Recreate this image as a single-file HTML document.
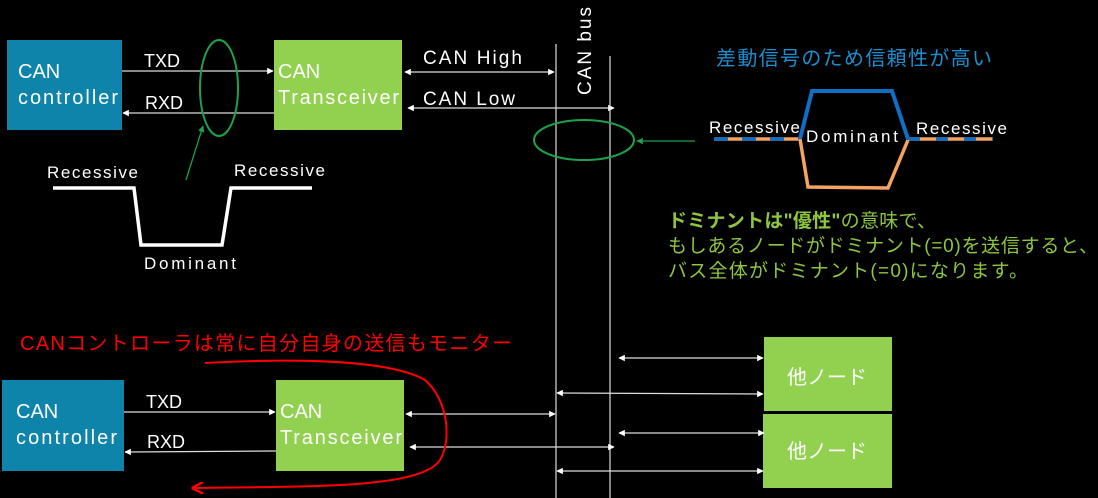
<!DOCTYPE html>
<html><head><meta charset="utf-8"><style>
html,body{margin:0;padding:0;background:#000;}
body{width:1098px;height:498px;overflow:hidden;position:relative;font-family:"Liberation Sans","Noto Sans CJK JP",sans-serif;}
svg{position:absolute;left:0;top:0;}
</style></head><body>
<svg width="1098" height="498" viewBox="0 0 1098 498" xmlns="http://www.w3.org/2000/svg" font-family="Liberation Sans, Noto Sans CJK JP, sans-serif">
<defs>
<marker id="a" viewBox="0 0 10 10" refX="9" refY="5" markerWidth="5" markerHeight="5" orient="auto-start-reverse"><path d="M0,0L10,5L0,10z" fill="#fff"/></marker>
<marker id="g" viewBox="0 0 10 10" refX="9" refY="5" markerWidth="5" markerHeight="5" orient="auto"><path d="M0,0L10,5L0,10z" fill="#1fa04a"/></marker>
<marker id="r" viewBox="0 0 10 10" refX="8" refY="5" markerWidth="6" markerHeight="6" orient="auto"><path d="M0,0L10,5L0,10" fill="none" stroke="#f00" stroke-width="2"/></marker>
</defs>
<!-- top boxes -->
<rect x="7" y="40" width="115" height="90" fill="#0e84ab"/>
<text x="18" y="78" fill="#fff" font-size="20">CAN</text>
<text x="18" y="104" fill="#fff" font-size="20" textLength="100">controller</text>
<rect x="274" y="40" width="128" height="90" fill="#92d050"/>
<text x="278" y="78" fill="#fff" font-size="20">CAN</text>
<text x="278" y="104" fill="#fff" font-size="20" textLength="121">Transceiver</text>
<g stroke="#ddd" stroke-width="1.3">
<line x1="122" y1="71" x2="273" y2="71" marker-end="url(#a)"/>
<line x1="274" y1="113" x2="123" y2="113" marker-end="url(#a)"/>
<line x1="405" y1="72" x2="554" y2="72" marker-start="url(#a)" marker-end="url(#a)"/>
<line x1="408" y1="108" x2="614" y2="108" marker-start="url(#a)" marker-end="url(#a)"/>
</g>
<text x="144" y="67" fill="#fff" font-size="18">TXD</text>
<text x="145" y="109" fill="#fff" font-size="18">RXD</text>
<text x="423" y="64" fill="#fff" font-size="19" textLength="99">CAN High</text>
<text x="423" y="105" fill="#fff" font-size="19" textLength="92">CAN Low</text>
<!-- bus -->
<line x1="556" y1="44" x2="556" y2="498" stroke="#ddd" stroke-width="1.2"/>
<line x1="610" y1="56" x2="610" y2="498" stroke="#ddd" stroke-width="1.2"/>
<text transform="translate(591,95) rotate(-90)" fill="#fff" font-size="19" textLength="88">CAN bus</text>
<!-- green ellipses -->
<ellipse cx="219" cy="88" rx="19" ry="48" fill="none" stroke="#1fa04a" stroke-width="2"/>
<line x1="186" y1="180" x2="203" y2="126" stroke="#1fa04a" stroke-width="1.3" marker-end="url(#g)"/>
<ellipse cx="584" cy="140" rx="50" ry="20" fill="none" stroke="#1fa04a" stroke-width="2"/>
<line x1="695" y1="141" x2="637" y2="141" stroke="#1fa04a" stroke-width="1.3" marker-end="url(#g)"/>
<!-- waveform -->
<polyline points="53,188 134,188 141,245 222,245 231,188 312,188" fill="none" stroke="#fff" stroke-width="3.5"/>
<text x="47" y="178" fill="#fff" font-size="17" textLength="91">Recessive</text>
<text x="234" y="176" fill="#fff" font-size="17" textLength="91">Recessive</text>
<text x="144" y="269" fill="#fff" font-size="17" textLength="92">Dominant</text>
<!-- right differential -->
<text x="716" y="65" fill="#1a8fd0" font-size="20" textLength="276">差動信号のため信頼性が高い</text>
<line x1="714" y1="139" x2="800" y2="139" stroke="#f4a460" stroke-width="3.5"/>
<line x1="714" y1="139" x2="800" y2="139" stroke="#0e6fc4" stroke-width="3.5" stroke-dasharray="14 14"/>
<line x1="908" y1="139" x2="993" y2="139" stroke="#f4a460" stroke-width="3.5"/>
<line x1="908" y1="139" x2="993" y2="139" stroke="#0e6fc4" stroke-width="3.5" stroke-dasharray="12 16"/>
<polyline points="800,139 808,187 888,188 908,140" fill="none" stroke="#f4a460" stroke-width="3.5"/>
<polyline points="800,139 812,91 892,91 908,139" fill="none" stroke="#0e6fc4" stroke-width="4"/>
<text x="709" y="133" fill="#fff" font-size="17" textLength="91">Recessive</text>
<text x="806" y="142" fill="#fff" font-size="17" textLength="92">Dominant</text>
<text x="916" y="134" fill="#fff" font-size="17" textLength="91">Recessive</text>
<g fill="#8dc63f" font-size="19">
<text x="668" y="227" textLength="268"><tspan font-weight="bold">ドミナントは"優性"</tspan>の意味で、</text>
<text x="668" y="252" textLength="430">もしあるノードがドミナント(=0)を送信すると、</text>
<text x="668" y="277" textLength="360">バス全体がドミナント(=0)になります。</text>
</g>
<!-- bottom -->
<text x="20" y="350" fill="#f00" font-size="20" textLength="492">CANコントローラは常に自分自身の送信もモニター</text>
<rect x="2" y="380" width="122" height="91" fill="#0e84ab"/>
<text x="16" y="418" fill="#fff" font-size="20">CAN</text>
<text x="16" y="444" fill="#fff" font-size="20" textLength="101">controller</text>
<rect x="276" y="380" width="128" height="91" fill="#92d050"/>
<text x="280" y="418" fill="#fff" font-size="20">CAN</text>
<text x="280" y="444" fill="#fff" font-size="20" textLength="122">Transceiver</text>
<text x="146" y="408" fill="#fff" font-size="18">TXD</text>
<text x="147" y="448" fill="#fff" font-size="18">RXD</text>
<rect x="764" y="337" width="128" height="74" fill="#92d050"/>
<text x="787" y="384" fill="#fff" font-size="20">他ノード</text>
<rect x="763" y="414" width="129" height="74" fill="#92d050"/>
<text x="787" y="458" fill="#fff" font-size="20">他ノード</text>
<g stroke="#ddd" stroke-width="1.3">
<line x1="124" y1="412" x2="275" y2="412" marker-end="url(#a)"/>
<line x1="276" y1="451" x2="125" y2="452" marker-end="url(#a)"/>
<line x1="406" y1="414" x2="555" y2="414" marker-start="url(#a)" marker-end="url(#a)"/>
<line x1="410" y1="447" x2="614" y2="447" marker-start="url(#a)" marker-end="url(#a)"/>
<line x1="619" y1="358" x2="763" y2="358" marker-start="url(#a)" marker-end="url(#a)"/>
<line x1="557" y1="393" x2="763" y2="394" marker-start="url(#a)" marker-end="url(#a)"/>
<line x1="619" y1="433" x2="764" y2="433" marker-start="url(#a)" marker-end="url(#a)"/>
<line x1="557" y1="471" x2="763" y2="471" marker-start="url(#a)" marker-end="url(#a)"/>
</g>
<path d="M205,363 C300,358 390,360 425,380 C448,400 452,440 440,460 C420,490 300,486 194,488" fill="none" stroke="#f00" stroke-width="2" marker-end="url(#r)"/>
</svg>
</body></html>
